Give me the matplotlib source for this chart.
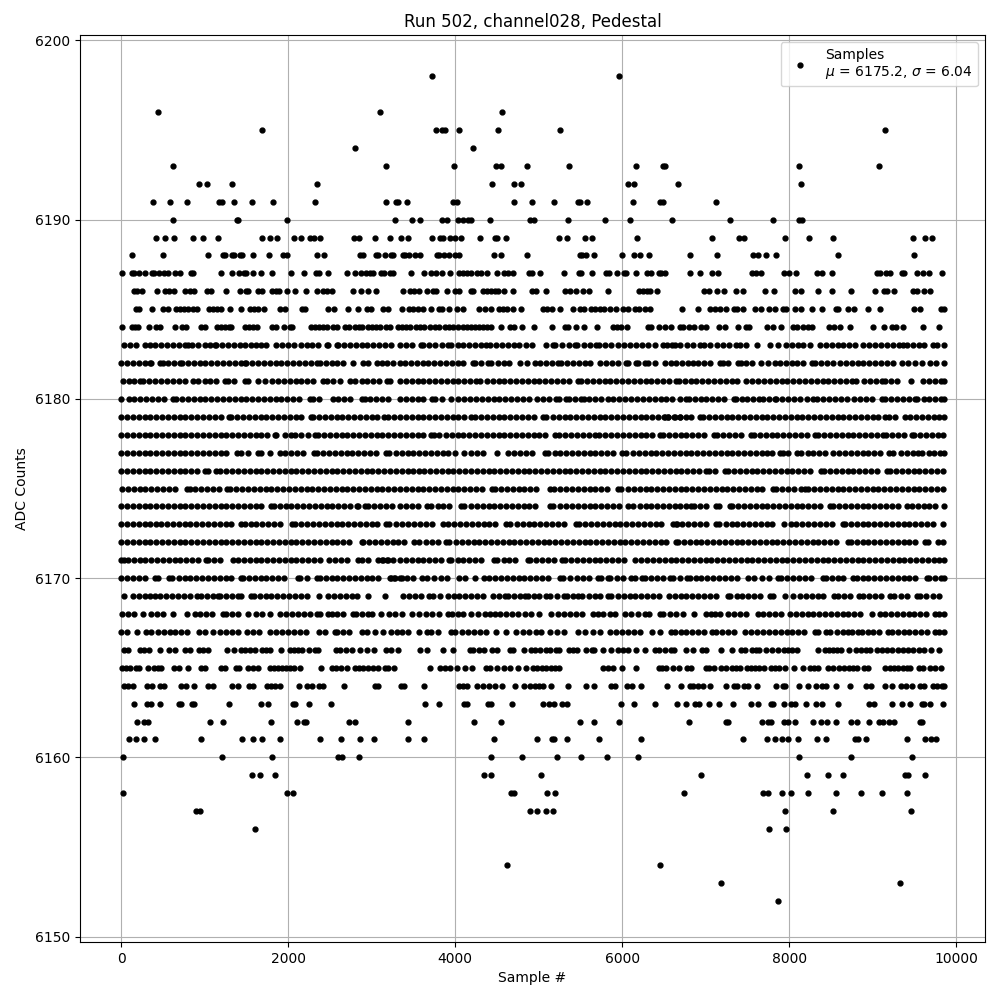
# Pedestal samples of one ADC channel
import matplotlib
matplotlib.use('Agg')
import matplotlib.pyplot as plt
import numpy as np

# Sample numbers seen at each ADC count
s6198 = [3720, 5960]
s6196 = [440, 3100, 4560]
s6195 = [1688, 3768, 3840, 3876, 4044, 4512, 5256, 9152]
s6194 = [2804, 4212]
s6193 = [620, 3168, 3984, 4488, 4548, 4860, 5364, 6168, 6492, 6516, 8120, 9080]
s6192 = [932, 1028, 1328, 2348, 4440, 4704, 4788, 6072, 6144, 6668, 8144]
s6191 = [380, 584, 788, 1172, 1208, 1352, 1568, 1820, 2324, 3168, 3288, 3312, 3420, 3972, 4020, 4704,
         4920, 5184, 5472, 5496, 5580, 6132, 6456, 6492, 7124]
s6190 = [620, 1388, 1400, 1988, 3276, 3480, 3576, 3840, 3900, 4032, 4092, 4152, 4188, 4416, 4896, 4944,
         5352, 5796, 6096, 6596, 7292, 7808, 8120, 8156]
s6189 = [416, 524, 632, 860, 980, 1160, 1688, 1784, 1868, 2072, 2156, 2264, 2312, 2384, 2792, 2852, 3044,
         3216, 3348, 3432, 3720, 3816, 3852, 3936, 3996, 4068, 4296, 4476, 4500, 4608, 5244, 5340, 5556,
         5640, 6180, 7076, 7400, 7460, 7952, 8240, 8528, 9488, 9632, 9716]
s6188 = [128, 500, 1040, 1220, 1244, 1328, 1352, 1424, 1448, 1580, 1772, 1940, 1988, 2348, 2432, 2864,
         2900, 3056, 3080, 3156, 3228, 3252, 3372, 3396, 3444, 3516, 3576, 3780, 3804, 3864, 3924, 3996,
         4044, 4464, 4548, 4860, 5496, 5520, 5568, 5664, 6000, 6144, 6216, 6324, 6812, 7136, 7568, 7628,
         7724, 7844, 8588, 9500]
s6187 = [8, 128, 152, 212, 284, 368, 392, 452, 512, 560, 644, 704, 836, 860, 1196, 1328, 1412, 1472, 1496,
         1580, 1676, 1808, 2036, 2192, 2336, 2372, 2476, 2708, 2804, 2876, 2936, 2984, 3020, 3108, 3144,
         3216, 3252, 3468, 3624, 3708, 3772, 3840, 3936, 4044, 4092, 4140, 4188, 4260, 4308, 4380, 4500,
         4584, 4632, 4692, 4884, 4920, 5016, 5304, 5484, 5508, 5640, 5808, 5844, 5940, 6024, 6048, 6168,
         6300, 6348, 6444, 6464, 6512, 6812, 6932, 7076, 7148, 7556, 7604, 7664, 7940, 8000, 8084, 8336,
         8396, 8516, 9056, 9092, 9164, 9212, 9356, 9380, 9536, 9608, 9680, 9836]
s6186 = [152, 188, 248, 428, 524, 572, 632, 764, 824, 872, 1028, 1076, 1256, 1424, 1496, 1520, 1640, 1688,
         1808, 1856, 1892, 1988, 2084, 2216, 2348, 2420, 2468, 2528, 2780, 2876, 2960, 3056, 3372, 3456,
         3504, 3564, 3660, 3732, 3768, 3900, 3996, 4044, 4188, 4212, 4332, 4380, 4428, 4476, 4512, 4584,
         4692, 4920, 4968, 5088, 5316, 5376, 5448, 5532, 5604, 5832, 6204, 6252, 6300, 6336, 6420, 6980,
         7040, 7136, 7220, 7364, 7448, 7712, 7820, 8072, 8144, 8348, 8516, 8744, 9032, 9140, 9176, 9260,
         9488, 9536, 9620, 9692]
s6185 = [176, 212, 368, 500, 560, 656, 704, 752, 800, 860, 908, 1052, 1100, 1148, 1196, 1304, 1436, 1544,
         1592, 1640, 1712, 1904, 1964, 2168, 2204, 2480, 2552, 2720, 2840, 2948, 2996, 3132, 3192, 3360,
         3444, 3492, 3552, 3612, 3708, 3804, 3840, 3924, 4020, 4092, 4284, 4356, 4428, 4524, 4572, 4620,
         4692, 4788, 5052, 5100, 5160, 5256, 5412, 5496, 5544, 5628, 5676, 5736, 5784, 5856, 5928, 6012,
         6072, 6156, 6204, 6276, 6336, 6716, 6908, 7052, 7112, 7172, 7244, 7340, 7376, 7448, 7592, 7664,
         7760, 7832, 7928, 7964, 8072, 8144, 8276, 8396, 8564, 8588, 8708, 8780, 8948, 9092, 9500, 9572,
         9824, 9850]
s6184 = [8, 128, 164, 200, 332, 416, 464, 644, 728, 776, 956, 1004, 1148, 1196, 1244, 1292, 1316, 1484,
         1532, 1580, 1628, 1808, 1856, 1952, 2024, 2048, 2276, 2324, 2372, 2420, 2468, 2540, 2588, 2684,
         2732, 2804, 2852, 2888, 2960, 3008, 3056, 3096, 3168, 3216, 3312, 3360, 3408, 3456, 3528, 3576,
         3624, 3700, 3756, 3804, 3876, 3924, 3972, 4032, 4092, 4140, 4188, 4236, 4284, 4332, 4380, 4428,
         4548, 4656, 4704, 4800, 4944, 5160, 5316, 5352, 5448, 5544, 5700, 5892, 5940, 5988, 6060, 6312,
         6348, 6444, 6512, 6584, 6692, 6728, 6800, 6860, 6944, 7004, 7160, 7232, 7388, 7484, 7520, 7736,
         7808, 7904, 8048, 8096, 8168, 8228, 8276, 8480, 8540, 8612, 8732, 9000, 9140, 9236, 9284, 9368,
         9608, 9800]
s6183 = [40, 108, 180, 280, 340, 410, 480, 550, 620, 690, 760, 800, 852, 925, 1000, 1070, 1120, 1140, 1210,
         1280, 1350, 1420, 1484, 1560, 1620, 1680, 1740, 1860, 1930, 2000, 2070, 2160, 2220, 2290, 2360,
         2460, 2480, 2580, 2600, 2670, 2740, 2810, 2880, 2950, 3020, 3090, 3160, 3230, 3340, 3410, 3480,
         3592, 3612, 3690, 3760, 3840, 3912, 3952, 4030, 4100, 4170, 4240, 4310, 4372, 4412, 4490, 4560,
         4630, 4700, 4770, 4850, 4924, 5092, 5172, 5200, 5280, 5360, 5432, 5460, 5540, 5620, 5692, 5724,
         5800, 5870, 5950, 6020, 6090, 6170, 6240, 6310, 6390, 6492, 6532, 6592, 6632, 6692, 6776, 6848,
         6928, 6980, 7048, 7136, 7208, 7280, 7360, 7408, 7488, 7616, 7768, 7868, 7968, 8040, 8110, 8168,
         8248, 8368, 8440, 8508, 8580, 8648, 8720, 8788, 8888, 8960, 9030, 9100, 9170, 9240, 9310, 9368,
         9408, 9480, 9550, 9620, 9728, 9768, 9850]
s6182 = [0, 70, 140, 210, 280, 340, 360, 460, 500, 560, 630, 700, 732, 800, 870, 940, 1010, 1080, 1150, 1220,
         1290, 1360, 1430, 1480, 1500, 1570, 1640, 1710, 1780, 1850, 1920, 1990, 2060, 2130, 2200, 2270,
         2340, 2380, 2450, 2520, 2590, 2660, 2780, 2900, 2960, 3060, 3120, 3180, 3250, 3340, 3400, 3470,
         3540, 3610, 3680, 3750, 3820, 3890, 3960, 4030, 4100, 4212, 4232, 4310, 4392, 4432, 4510, 4580,
         4650, 4772, 4864, 4952, 5020, 5090, 5160, 5232, 5272, 5340, 5410, 5480, 5550, 5620, 5740, 5804,
         5880, 5950, 6044, 6072, 6172, 6192, 6272, 6312, 6392, 6512, 6580, 6650, 6720, 6790, 6848, 6908,
         6980, 7050, 7168, 7208, 7268, 7388, 7428, 7480, 7550, 7668, 7748, 7828, 7888, 7960, 8030, 8100,
         8170, 8268, 8308, 8380, 8450, 8528, 8608, 8680, 8750, 8820, 8890, 8960, 9030, 9100, 9170, 9240,
         9348, 9428, 9508, 9596, 9688, 9760, 9850]
s6181 = [20, 90, 160, 220, 260, 330, 400, 480, 550, 620, 690, 760, 860, 920, 1000, 1070, 1140, 1240, 1280,
         1350, 1480, 1520, 1640, 1720, 1812, 1880, 1950, 2020, 2090, 2160, 2230, 2300, 2420, 2460, 2540,
         2620, 2740, 2800, 2880, 2950, 3020, 3090, 3180, 3220, 3340, 3410, 3480, 3550, 3620, 3690, 3760,
         3830, 3900, 3970, 4040, 4110, 4180, 4252, 4292, 4380, 4452, 4520, 4590, 4660, 4730, 4800, 4870,
         4940, 5010, 5080, 5150, 5220, 5290, 5360, 5472, 5512, 5580, 5650, 5720, 5790, 5860, 5930, 6000,
         6070, 6140, 6210, 6280, 6350, 6420, 6490, 6560, 6648, 6680, 6750, 6820, 6890, 6960, 7030, 7100,
         7170, 7240, 7310, 7376, 7488, 7560, 7630, 7700, 7770, 7840, 7910, 7980, 8050, 8120, 8190, 8260,
         8330, 8400, 8468, 8536, 8610, 8680, 8748, 8800, 8896, 8970, 9040, 9108, 9148, 9220, 9288, 9456,
         9608, 9680, 9750, 9820, 9852]
s6180 = [0, 100, 160, 230, 300, 370, 440, 510, 620, 660, 730, 800, 868, 940, 1010, 1080, 1150, 1220, 1290,
         1360, 1430, 1500, 1570, 1640, 1710, 1780, 1850, 1920, 1990, 2060, 2130, 2260, 2300, 2370, 2540,
         2600, 2670, 2740, 2880, 2920, 2980, 3050, 3120, 3190, 3340, 3410, 3480, 3550, 3620, 3724, 3764,
         3840, 3952, 4040, 4110, 4180, 4250, 4320, 4390, 4460, 4530, 4600, 4670, 4740, 4810, 4880, 4980,
         5052, 5120, 5212, 5240, 5324, 5364, 5440, 5512, 5540, 5604, 5680, 5750, 5832, 5892, 5964, 6040,
         6110, 6180, 6250, 6320, 6390, 6460, 6530, 6600, 6692, 6760, 6800, 6868, 6940, 7010, 7080, 7150,
         7220, 7336, 7360, 7430, 7500, 7570, 7640, 7688, 7760, 7828, 7848, 7920, 7990, 8060, 8130, 8216,
         8288, 8336, 8410, 8480, 8550, 8620, 8690, 8780, 8848, 8920, 8990, 9108, 9148, 9220, 9290, 9360,
         9430, 9508, 9536, 9610, 9680, 9750, 9820, 9850]
s6179 = [0, 70, 140, 210, 280, 350, 420, 490, 560, 630, 700, 770, 840, 910, 980, 1050, 1120, 1190, 1292, 1320,
         1390, 1460, 1530, 1600, 1670, 1740, 1810, 1880, 1950, 2020, 2090, 2160, 2268, 2292, 2370, 2440,
         2510, 2580, 2650, 2720, 2790, 2860, 2930, 3000, 3070, 3152, 3192, 3270, 3340, 3410, 3480, 3550,
         3620, 3690, 3760, 3830, 3900, 3970, 4040, 4110, 4192, 4240, 4304, 4380, 4450, 4520, 4590, 4660,
         4730, 4800, 4870, 4940, 5052, 5092, 5170, 5240, 5310, 5380, 5450, 5520, 5590, 5660, 5730, 5800,
         5870, 5940, 6010, 6080, 6150, 6220, 6290, 6360, 6430, 6512, 6552, 6630, 6692, 6496, 6548, 6620,
         6690, 6760, 6830, 6928, 6968, 7036, 7110, 7180, 7250, 7320, 7390, 7460, 7530, 7600, 7670, 7740,
         7810, 7880, 7950, 8020, 8090, 8160, 8230, 8300, 8370, 8440, 8510, 8580, 8650, 8720, 8790, 8860,
         8930, 9000, 9070, 9148, 9200, 9270, 9388, 9448, 9520, 9590, 9660, 9730, 9800, 9852]
s6178 = [0, 70, 140, 210, 280, 350, 420, 490, 560, 630, 700, 770, 840, 910, 980, 1050, 1120, 1190, 1260, 1330,
         1400, 1470, 1540, 1610, 1680, 1750, 1840, 1860, 1960, 2040, 2080, 2160, 2240, 2320, 2360, 2430,
         2500, 2570, 2640, 2710, 2780, 2850, 2920, 2990, 3060, 3130, 3200, 3270, 3340, 3410, 3480, 3550,
         3620, 3712, 3744, 3812, 3890, 3960, 4030, 4100, 4170, 4240, 4310, 4380, 4450, 4520, 4590, 4660,
         4730, 4800, 4870, 4940, 5010, 5080, 5200, 5240, 5320, 5390, 5460, 5530, 5600, 5672, 5720, 5800,
         5870, 5940, 6010, 6080, 6150, 6220, 6290, 6360, 6452, 6488, 6560, 6630, 6700, 6770, 6840, 6910,
         6980, 7100, 7136, 7210, 7280, 7350, 7420, 7548, 7576, 7650, 7720, 7790, 7860, 7930, 8000, 8070,
         8140, 8210, 8308, 8348, 8420, 8490, 8560, 8630, 8700, 8770, 8840, 8910, 8980, 9050, 9128, 9160,
         9230, 9300, 9370, 9468, 9496, 9570, 9640, 9710, 9780, 9848]
s6177 = [0, 70, 140, 210, 280, 350, 420, 490, 560, 630, 700, 770, 840, 910, 980, 1050, 1120, 1190, 1260, 1388,
         1440, 1520, 1640, 1680, 1780, 1900, 1960, 2040, 2110, 2180, 2308, 2348, 2420, 2490, 2560, 2630,
         2700, 2770, 2840, 2910, 2980, 3050, 3172, 3212, 3290, 3360, 3430, 3500, 3570, 3640, 3710, 3780,
         3850, 3920, 4004, 4112, 4190, 4260, 4330, 4500, 4632, 4710, 4780, 4850, 4920, 5072, 5112, 5190,
         5260, 5330, 5400, 5470, 5540, 5610, 5680, 5750, 5820, 5890, 6004, 6052, 6130, 6200, 6270, 6340,
         6410, 6480, 6550, 6620, 6692, 6760, 6830, 6900, 6970, 7040, 7110, 7180, 7250, 7320, 7390, 7460,
         7530, 7600, 7670, 7736, 7800, 7888, 7928, 7988, 8096, 8148, 8220, 8290, 8360, 8430, 8528, 8600,
         8670, 8740, 8810, 8880, 8950, 9020, 9090, 9200, 9248, 9336, 9408, 9480, 9548, 9596, 9670, 9740,
         9810, 9850]
s6176 = [0, 70, 140, 210, 280, 350, 420, 490, 560, 630, 700, 770, 840, 910, 1000, 1040, 1140, 1188, 1260, 1330,
         1400, 1470, 1540, 1610, 1680, 1750, 1820, 1890, 1960, 2030, 2100, 2170, 2240, 2310, 2380, 2450,
         2520, 2590, 2660, 2730, 2800, 2870, 2940, 3010, 3080, 3150, 3220, 3290, 3360, 3430, 3500, 3572,
         3632, 3700, 3770, 3840, 3910, 3980, 4050, 4120, 4190, 4260, 4330, 4400, 4470, 4540, 4610, 4680,
         4750, 4820, 4890, 4960, 5030, 5100, 5170, 5240, 5310, 5380, 5450, 5520, 5590, 5660, 5730, 5800,
         5870, 5940, 6010, 6080, 6150, 6220, 6290, 6360, 6430, 6500, 6570, 6640, 6710, 6780, 6850, 6920,
         7008, 7040, 7110, 7232, 7268, 7340, 7410, 7480, 7550, 7620, 7690, 7760, 7830, 7900, 7970, 8040,
         8110, 8180, 8250, 8380, 8416, 8490, 8560, 8630, 8700, 8770, 8840, 8910, 8980, 9050, 9176, 9208,
         9280, 9350, 9420, 9490, 9560, 9630, 9700, 9770, 9848]
s6175 = [8, 80, 150, 220, 290, 360, 430, 500, 570, 640, 788, 820, 890, 960, 1030, 1100, 1170, 1268, 1308,
         1380, 1450, 1520, 1590, 1660, 1730, 1800, 1870, 1940, 2010, 2080, 2150, 2220, 2290, 2360, 2430,
         2500, 2570, 2640, 2710, 2780, 2850, 2920, 2990, 3060, 3130, 3200, 3270, 3340, 3410, 3480, 3550,
         3620, 3690, 3760, 3830, 3900, 3970, 4040, 4110, 4180, 4250, 4320, 4444, 4472, 4550, 4620, 4690,
         4760, 4830, 4900, 4970, 5132, 5180, 5260, 5330, 5400, 5470, 5540, 5610, 5680, 5750, 5820, 5952,
         5992, 6070, 6140, 6210, 6280, 6350, 6420, 6490, 6560, 6630, 6700, 6770, 6840, 6910, 6980, 7050,
         7120, 7190, 7260, 7330, 7400, 7470, 7540, 7610, 7680, 7808, 7840, 7920, 7990, 8060, 8148, 8188,
         8228, 8300, 8370, 8440, 8510, 8580, 8650, 8720, 8790, 8860, 8930, 9000, 9070, 9140, 9210, 9280,
         9350, 9420, 9490, 9560, 9630, 9700, 9770, 9848]
s6174 = [0, 70, 140, 210, 280, 350, 420, 490, 560, 630, 700, 770, 840, 910, 980, 1050, 1120, 1190, 1260, 1330,
         1400, 1470, 1540, 1610, 1680, 1800, 1828, 1900, 1970, 2040, 2110, 2180, 2250, 2320, 2390, 2460,
         2530, 2600, 2670, 2740, 2820, 2840, 2920, 2960, 3030, 3100, 3170, 3240, 3340, 3410, 3480, 3550,
         3660, 3712, 3790, 3860, 3930, 4072, 4112, 4190, 4260, 4330, 4400, 4470, 4540, 4610, 4680, 4750,
         4820, 4890, 4960, 5132, 5172, 5252, 5330, 5400, 5470, 5540, 5610, 5680, 5750, 5820, 5890, 5960,
         6072, 6132, 6210, 6280, 6350, 6420, 6490, 6560, 6630, 6692, 6760, 6828, 6860, 6930, 7000, 7128,
         7160, 7288, 7320, 7390, 7460, 7530, 7600, 7670, 7740, 7810, 7880, 7950, 8020, 8090, 8160, 8230,
         8300, 8370, 8488, 8528, 8600, 8670, 8740, 8810, 8880, 8950, 9020, 9090, 9160, 9230, 9300, 9416,
         9468, 9540, 9610, 9680, 9750, 9850]
s6173 = [0, 70, 140, 210, 280, 350, 412, 480, 550, 620, 690, 760, 830, 900, 970, 1040, 1110, 1180, 1250, 1320,
         1440, 1480, 1550, 1620, 1690, 1760, 1830, 1900, 2052, 2088, 2160, 2230, 2300, 2370, 2440, 2510,
         2580, 2650, 2720, 2790, 2860, 2930, 3000, 3070, 3172, 3212, 3292, 3364, 3440, 3510, 3580, 3650,
         3720, 3852, 3912, 3990, 4060, 4130, 4200, 4270, 4340, 4410, 4480, 4604, 4660, 4740, 4810, 4880,
         4950, 5020, 5090, 5160, 5230, 5300, 5444, 5480, 5560, 5630, 5700, 5770, 5840, 5910, 5980, 6050,
         6120, 6190, 6260, 6330, 6400, 6470, 6604, 6652, 6648, 6720, 6790, 6860, 6930, 7000, 7128, 7160,
         7240, 7310, 7380, 7450, 7520, 7590, 7660, 7730, 7800, 7936, 8020, 8088, 8160, 8230, 8300, 8370,
         8440, 8510, 8640, 8668, 8740, 8810, 8880, 8950, 9020, 9090, 9160, 9230, 9300, 9370, 9440, 9510,
         9580, 9650, 9720, 9840]
s6172 = [0, 70, 140, 210, 280, 350, 420, 490, 560, 630, 700, 770, 840, 910, 980, 1050, 1120, 1190, 1260, 1330,
         1400, 1470, 1540, 1610, 1680, 1750, 1820, 1890, 1960, 2030, 2100, 2170, 2240, 2310, 2380, 2450,
         2520, 2590, 2660, 2730, 2880, 2900, 2970, 3040, 3110, 3180, 3250, 3320, 3390, 3504, 3572, 3650,
         3720, 3790, 3892, 3932, 4010, 4080, 4150, 4220, 4290, 4360, 4430, 4500, 4570, 4640, 4710, 4780,
         4850, 4920, 4990, 5060, 5130, 5200, 5270, 5340, 5410, 5480, 5550, 5620, 5690, 5760, 5830, 5900,
         5970, 6040, 6110, 6180, 6250, 6320, 6390, 6460, 6530, 6648, 6668, 6740, 6810, 6880, 6950, 7020,
         7090, 7160, 7230, 7300, 7370, 7440, 7510, 7580, 7650, 7720, 7790, 7860, 7930, 8000, 8070, 8140,
         8210, 8280, 8350, 8420, 8490, 8560, 8708, 8736, 8810, 8880, 8950, 9020, 9090, 9160, 9230, 9300,
         9370, 9440, 9510, 9628, 9660, 9788, 9848]
s6171 = [0, 40, 80, 150, 220, 290, 360, 430, 500, 570, 640, 710, 780, 850, 920, 1012, 1040, 1110, 1180, 1340,
         1400, 1470, 1540, 1610, 1680, 1750, 1820, 1890, 1960, 2030, 2100, 2170, 2240, 2310, 2380, 2492,
         2560, 2630, 2700, 2840, 2880, 2960, 3080, 3120, 3190, 3260, 3340, 3132, 3180, 3410, 3480, 3550,
         3620, 3690, 3760, 3830, 3932, 3952, 4030, 4100, 4170, 4240, 4310, 4460, 4504, 4580, 4650, 4720,
         4872, 4900, 4970, 5040, 5110, 5180, 5284, 5312, 5390, 5460, 5530, 5600, 5670, 5740, 5810, 5880,
         5950, 6020, 6152, 6220, 6300, 6370, 6440, 6510, 6580, 6650, 6720, 6790, 6860, 6930, 7000, 7070,
         7140, 7210, 7280, 7350, 7420, 7490, 7560, 7630, 7700, 7770, 7840, 7910, 7980, 8050, 8120, 8190,
         8260, 8330, 8400, 8470, 8540, 8610, 8680, 8750, 8820, 8890, 8960, 9030, 9100, 9170, 9240, 9310,
         9380, 9450, 9520, 9590, 9660, 9730, 9800, 9853]
s6170 = [0, 70, 140, 210, 280, 400, 440, 572, 612, 690, 760, 830, 900, 970, 1040, 1110, 1180, 1250, 1320, 1440,
         1460, 1530, 1600, 1670, 1740, 1810, 1880, 1950, 2120, 2148, 2220, 2340, 2380, 2450, 2520, 2590,
         2660, 2730, 2800, 2870, 2940, 3010, 3080, 3220, 3280, 3340, 3232, 3272, 3364, 3420, 3490, 3604,
         3660, 3752, 3830, 3900, 4044, 4116, 4232, 4344, 4404, 4480, 4550, 4620, 4690, 4760, 4830, 4900,
         4970, 5040, 5110, 5252, 5292, 5380, 5460, 5530, 5600, 5712, 5752, 5832, 5860, 5940, 6010, 6112,
         6152, 6232, 6272, 6350, 6420, 6490, 6572, 6612, 6692, 6776, 6808, 6880, 6950, 7020, 7090, 7160,
         7230, 7300, 7370, 7508, 7576, 7680, 7760, 7868, 7908, 7980, 8050, 8120, 8190, 8260, 8400, 8436,
         8510, 8580, 8650, 8768, 8808, 8880, 8950, 9020, 9090, 9160, 9230, 9300, 9370, 9440, 9510, 9648,
         9680, 9750, 9820, 9850]
s6169 = [32, 140, 210, 280, 340, 400, 470, 540, 610, 680, 750, 820, 908, 960, 1030, 1100, 1160, 1188, 1260,
         1330, 1400, 1440, 1560, 1588, 1660, 1730, 1800, 1870, 1940, 2010, 2080, 2150, 2220, 2372, 2480,
         2550, 2620, 2690, 2760, 2830, 2960, 3160, 3372, 3450, 3524, 3592, 3692, 3732, 3820, 3912, 3992,
         4052, 4120, 4190, 4260, 4332, 4452, 4520, 4592, 4632, 4710, 4780, 4832, 4872, 4940, 5010, 5092,
         5140, 5220, 5300, 5340, 5410, 5472, 5524, 5600, 5670, 5740, 5832, 5872, 5950, 6020, 6090, 6160,
         6230, 6300, 6370, 6440, 6560, 6628, 6700, 6770, 6840, 6910, 6980, 7050, 7120, 7268, 7296, 7370,
         7440, 7510, 7580, 7650, 7768, 7808, 7948, 8048, 8128, 8200, 8270, 8340, 8410, 8536, 8588, 8660,
         8730, 8840, 8888, 8960, 9030, 9100, 9208, 9260, 9340, 9410, 9528, 9568, 9640, 9728, 9800]
s6168 = [12, 80, 150, 260, 360, 430, 500, 620, 788, 880, 950, 1020, 1090, 1220, 1252, 1330, 1400, 1520, 1612,
         1692, 1780, 1908, 1980, 2050, 2120, 2190, 2260, 2340, 2380, 2480, 2520, 2590, 2660, 2772, 2812,
         2880, 2960, 3008, 3112, 3204, 3284, 3364, 3484, 3572, 3650, 3720, 3804, 3912, 3964, 4040, 4092,
         4192, 4272, 4352, 4412, 4472, 4532, 4610, 4680, 4750, 4832, 4912, 5004, 5152, 5232, 5300, 5380,
         5450, 5520, 5652, 5712, 5772, 5850, 5920, 6032, 6112, 6190, 6272, 6324, 6452, 6492, 6570, 6640,
         6728, 6856, 7008, 7068, 7108, 7176, 7268, 7340, 7410, 7480, 7628, 7688, 7760, 7830, 7900, 8016,
         8080, 8150, 8220, 8290, 8360, 8430, 8500, 8570, 8640, 8710, 8780, 8850, 8988, 9088, 9148, 9220,
         9290, 9360, 9430, 9500, 9570, 9640, 9748, 9800, 9850]
s6167 = [0, 70, 188, 300, 360, 440, 510, 580, 650, 720, 790, 932, 1000, 1100, 1188, 1252, 1330, 1400, 1508,
         1580, 1652, 1788, 1860, 1930, 2000, 2070, 2140, 2210, 2364, 2440, 2560, 2588, 2660, 2730, 2880,
         2940, 3040, 3132, 3232, 3300, 3364, 3432, 3564, 3660, 3712, 3792, 3952, 4004, 4084, 4160, 4230,
         4300, 4370, 4484, 4612, 4732, 4810, 4880, 4972, 5032, 5132, 5220, 5304, 5472, 5550, 5652, 5740,
         5852, 5924, 6000, 6070, 6140, 6212, 6360, 6452, 6580, 6628, 6700, 6770, 6840, 6910, 6980, 7080,
         7120, 7200, 7270, 7340, 7468, 7548, 7620, 7690, 7760, 7830, 7900, 7970, 8040, 8110, 8180, 8308,
         8348, 8436, 8488, 8570, 8640, 8708, 8748, 8828, 8868, 8940, 9010, 9080, 9188, 9228, 9300, 9370,
         9440, 9510, 9580, 9650, 9748, 9800, 9850]
s6166 = [32, 80, 224, 272, 332, 464, 572, 644, 764, 824, 932, 980, 1040, 1268, 1352, 1436, 1484, 1544, 1604,
         1688, 1736, 1784, 1920, 2024, 2072, 2120, 2168, 2252, 2324, 2360, 2576, 2624, 2696, 2768, 2864,
         2948, 3032, 3168, 3228, 3312, 3576, 3660, 3852, 3972, 4176, 4212, 4284, 4344, 4440, 4500, 4656,
         4692, 4824, 4908, 4956, 5016, 5088, 5136, 5208, 5244, 5364, 5412, 5460, 5568, 5640, 5664, 5772,
         5868, 5952, 6012, 6072, 6172, 6272, 6396, 6444, 6512, 6584, 6620, 6764, 6848, 6956, 7004, 7184,
         7316, 7424, 7472, 7556, 7604, 7640, 7724, 7796, 7868, 7940, 7988, 8036, 8096, 8348, 8432, 8480,
         8528, 8576, 8624, 8720, 8804, 8864, 8924, 8972, 9056, 9116, 9176, 9236, 9308, 9368, 9428, 9488,
         9560, 9620, 9704, 9800]
s6165 = [8, 56, 104, 176, 212, 320, 392, 440, 476, 632, 692, 800, 956, 1004, 1196, 1244, 1376, 1412, 1520, 1580,
         1640, 1784, 1832, 1880, 1928, 1976, 2024, 2072, 2144, 2396, 2528, 2576, 2636, 2708, 2804, 2852,
         2900, 2960, 3020, 3080, 3156, 3192, 3264, 3696, 3816, 3876, 3936, 4020, 4116, 4200, 4368, 4416,
         4500, 4584, 4656, 4756, 4848, 4932, 4980, 5040, 5088, 5148, 5196, 5244, 5772, 5832, 5892, 6000,
         6168, 6444, 6476, 6524, 6608, 6680, 6776, 6824, 7004, 7040, 7100, 7184, 7244, 7316, 7364, 7412,
         7496, 7544, 7592, 7640, 7700, 7784, 7832, 7880, 7952, 8056, 8168, 8252, 8300, 8348, 8468, 8528,
         8600, 8660, 8720, 8768, 8816, 8900, 8948, 9152, 9212, 9260, 9308, 9368, 9416, 9452, 9560, 9608,
         9692, 9752, 9824]
s6164 = [32, 80, 140, 308, 368, 464, 512, 716, 776, 872, 1040, 1100, 1328, 1400, 1532, 1580, 1748, 1796, 1844,
         1904, 2132, 2228, 2288, 2372, 2420, 2672, 3044, 3080, 3348, 3384, 3624, 4044, 4092, 4140, 4260,
         4332, 4404, 4476, 4560, 4716, 4824, 4896, 4956, 5004, 5052, 5148, 5352, 5568, 5664, 5868, 5916,
         6060, 6120, 6228, 6536, 6704, 6812, 6848, 6908, 6968, 7052, 7244, 7340, 7376, 7460, 7508, 7616,
         7844, 7928, 7952, 8120, 8228, 8324, 8396, 8444, 8564, 8728, 8924, 8984, 9152, 9236, 9344, 9404,
         9476, 9572, 9620, 9728, 9776, 9836, 9850]
s6163 = [152, 308, 356, 464, 692, 716, 848, 872, 1292, 1676, 1760, 2060, 2084, 2252, 2516, 3636, 3804, 4104,
         4140, 4392, 4428, 4680, 5052, 5124, 5184, 5280, 5340, 5988, 6144, 6396, 6656, 6764, 6872, 6920,
         7040, 7160, 7328, 7544, 7628, 7784, 7808, 7940, 8024, 8072, 8204, 8324, 8396, 8588, 8960, 9020,
         9236, 9356, 9452, 9596, 9620, 9692, 9848]
s6162 = [188, 272, 320, 1064, 1220, 1796, 2108, 2192, 2216, 2732, 2804, 3432, 4224, 4548, 5496, 5664, 5964, 6800,
         7244, 7268, 7676, 7748, 7784, 7940, 7988, 8072, 8288, 8384, 8456, 8564, 8744, 8816, 8960, 9080,
         9128, 9200, 9260, 9572, 9596]
s6161 = [92, 176, 272, 404, 956, 1448, 1580, 1688, 1904, 2384, 2636, 2864, 3032, 3432, 3624, 4464, 4980, 5160,
         5184, 5340, 5724, 6228, 7448, 7736, 7832, 7916, 7988, 8108, 8336, 8444, 8792, 8828, 8924, 9416,
         9632, 9704, 9764]
s6160 = [20, 1208, 1808, 2600, 2648, 2852, 4428, 4800, 5220, 5508, 5820, 6192, 8120, 8744, 9476]
s6159 = [1568, 1664, 1844, 4344, 4428, 5028, 6944, 8216, 8468, 8648, 9392, 9428, 9632]
s6158 = [20, 1988, 2060, 4668, 4704, 5100, 5196, 6740, 7688, 7748, 7916, 8024, 8228, 8564, 8864, 9116, 9416]
s6157 = [896, 944, 4896, 4980, 5088, 5172, 7952, 8528, 9464]
s6156 = [1604, 7760, 7964]
s6154 = [4620, 6456]
s6153 = [7184, 9332]
s6152 = [7868]

levels = [6198, 6196, 6195, 6194, 6193, 6192, 6191, 6190, 6189, 6188, 6187, 6186, 6185, 6184, 6183, 6182,
          6181, 6180, 6179, 6178, 6177, 6176, 6175, 6174, 6173, 6172, 6171, 6170, 6169, 6168, 6167, 6166,
          6165, 6164, 6163, 6162, 6161, 6160, 6159, 6158, 6157, 6156, 6154, 6153, 6152]
rows = [s6198, s6196, s6195, s6194, s6193, s6192, s6191, s6190, s6189, s6188, s6187, s6186, s6185, s6184,
        s6183, s6182, s6181, s6180, s6179, s6178, s6177, s6176, s6175, s6174, s6173, s6172, s6171, s6170,
        s6169, s6168, s6167, s6166, s6165, s6164, s6163, s6162, s6161, s6160, s6159, s6158, s6157, s6156,
        s6154, s6153, s6152]

x = np.concatenate([np.array(r) for r in rows])
y = np.repeat(levels, [len(r) for r in rows])

fig, ax = plt.subplots(figsize=(10, 10))
ax.plot(x, y, 'k.', markersize=7, label='Samples\n$\\mu$ = 6175.2, $\\sigma$ = 6.04')
ax.set_title('Run 502, channel028, Pedestal')
ax.set_xlabel('Sample #')
ax.set_ylabel('ADC Counts')
ax.ticklabel_format(useOffset=False, style='plain', axis='y')
ax.grid(True)
ax.legend(loc='upper right')
fig.subplots_adjust(left=0.08, right=0.985, top=0.965, bottom=0.058)
fig.savefig('out.png', dpi=100)
